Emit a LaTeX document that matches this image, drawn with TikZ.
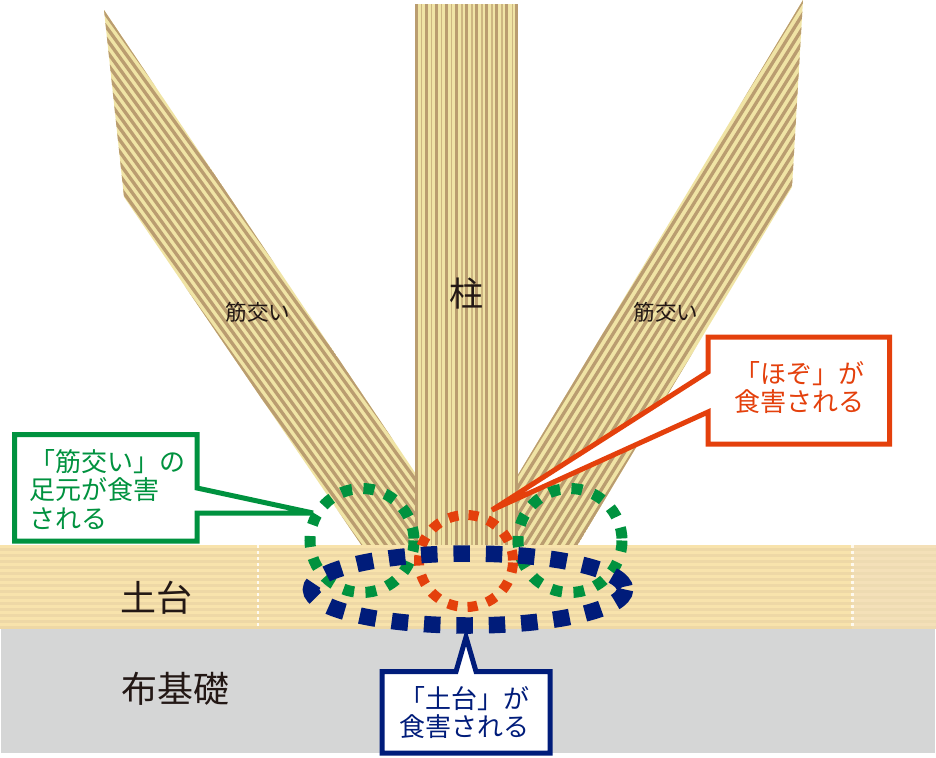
\documentclass[tikz,border=0pt]{standalone}
\usepackage{fontspec}
\setmainfont{Noto Sans CJK JP}
\definecolor{cream}{RGB}{240,228,165}
\definecolor{woodb}{RGB}{186,157,112}
\definecolor{woodc}{RGB}{205,182,130}
\definecolor{sillA}{RGB}{248,227,172}
\definecolor{sillB}{RGB}{238,216,166}
\definecolor{sillC}{RGB}{244,224,184}
\definecolor{sillD}{RGB}{238,219,178}
\definecolor{gray0}{RGB}{213,214,214}
\definecolor{ink}{RGB}{35,24,21}
\definecolor{gr}{RGB}{0,146,63}
\definecolor{rd}{RGB}{228,64,12}
\definecolor{bl}{RGB}{0,28,122}
\tikzset{
  woodstripe/.style={woodb,line width=3.3pt},
  callout/.style={fill=white,line width=5pt,line join=miter,miter limit=4},
  labelbig/.style={text=ink,font=\fontsize{36}{38}\selectfont,inner sep=0pt},
  labelsmall/.style={text=ink,font=\fontsize{21.6}{24}\selectfont,inner sep=0pt},
  calltext/.style={font=\fontsize{26}{28.5}\selectfont,inner sep=0pt,align=left},
  greenring/.style={gr,line width=11pt,dash pattern=on 11pt off 11.4pt},
  redring/.style={rd,line width=10pt,dash pattern=on 10pt off 10pt,dash phase=-1.5pt},
  bluering/.style={bl,line width=16.5pt,dash pattern=on 16.5pt off 15.9pt}
}
\begin{document}
\begin{tikzpicture}[x=1pt,y=-1pt]
\useasboundingbox (0,0) rectangle (936,757);
% left brace
\begin{scope}
\clip (104,10) -- (124,197) -- (362,546) -- (416,546) -- (416,474) -- cycle;
\fill[cream] (90,0) rectangle (430,560);
\foreach \k in {-70,...,6} {\draw[woodstripe] (104+\k*8.5,0) -- ++(432,600);}
\end{scope}
% right brace
\begin{scope}
\clip (803,0) -- (792,187) -- (577,546) -- (510,546) -- (510,488) -- cycle;
\fill[cream] (500,0) rectangle (810,560);
\foreach \k in {-6,...,60} {\draw[woodstripe] (803+\k*8.5,0) -- ++(-372,600);}
\end{scope}
% post
\fill[cream] (415,4) rectangle (518,546);
\foreach \k in {0,...,9} {\fill[woodc] (420.6+\k*10.1,4) rectangle ++(1.5,542);}
\foreach \k in {0,...,10} {\fill[woodb] (415+\k*10.02,4) rectangle ++(3,542);}
% sill
\fill[sillA] (0,545) rectangle (852,629);
\fill[sillC] (852,545) rectangle (936,629);
\foreach \k in {0,...,13} {
  \fill[sillB] (0,548+\k*6) rectangle (852,551+\k*6);
  \fill[sillD] (852,548+\k*6) rectangle (936,551+\k*6);
}
\draw[white!85!sillA,line width=1.5pt,dash pattern=on 3pt off 3pt] (258,545) -- (258,629);
\draw[white!80!sillA,line width=3pt,dash pattern=on 3pt off 3pt] (852,545) -- (852,629);
% foundation
\fill[gray0] (1,629) rectangle (935,753);
% labels
\node[labelbig,font=\fontsize{34}{36}\selectfont] (hashira) at (466.5,294) {柱};
\node[labelbig] (dodai) at (156,598) {土台};
\node[labelbig] (nuno) at (175,689) {布基礎};
\node[labelsmall] (sujiL) at (258,312) {筋交い};
\node[labelsmall] (sujiR) at (666,312) {筋交い};
% callouts
\draw[callout,draw=gr] (14.5,434.5) -- (197,434.5) -- (197,488) -- (313,513) -- (197,513) -- (197,541) -- (14.5,541) -- cycle;
\node[calltext,text=gr,anchor=west] (tGreen) at (29,489.5) {「筋交い」の\\足元が食害\\される};
\draw[callout,draw=rd] (708,337) -- (889.5,337) -- (889.5,444) -- (708,444) -- (708,412) -- (492,510) -- (708,372) -- cycle;
\node[calltext,text=rd,anchor=west] (tRed) at (734,387.5) {「ほぞ」が\\食害される};
\draw[callout,draw=bl] (382,671.5) -- (456,671.5) -- (466,637) -- (476,671.5) -- (550,671.5) -- (550,753) -- (382,753) -- cycle;
\node[calltext,text=bl,anchor=west] (tBlue) at (399.5,712.5) {「土台」が\\食害される};
% rings
\draw[greenring] (362,540.5) ellipse (52 and 52);
\draw[greenring] (570,540.5) ellipse (52 and 52);
\draw[redring] (466,561) ellipse (47 and 46);
\draw[bluering] (468,589.5) ellipse (157 and 36);
\end{tikzpicture}
\end{document}
